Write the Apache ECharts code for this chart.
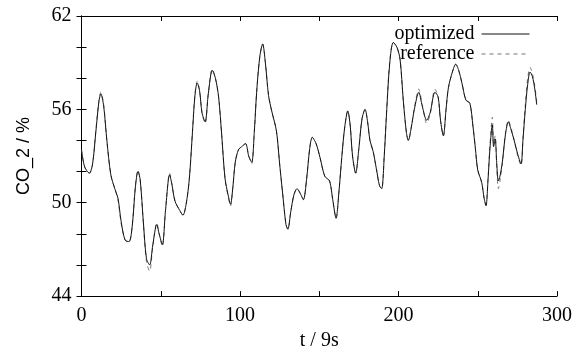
<!DOCTYPE html>
<html><head><meta charset="utf-8">
<script src="https://cdn.jsdelivr.net/npm/echarts@6/dist/echarts.min.js"></script>
<style>html,body{margin:0;padding:0;background:#fff}#c{width:585px;height:356px}</style>
</head><body><div id="c"></div>
<script>
const tValues = [0,2,5,7,9,11,12.2,14,16,18.5,21,23,25,27.5,30,32,34,35.6,37,39,41,43,45,47.5,49,51,53,55.6,57,59,62,64,66,68,70,71.5,73,74.5,76,78,80,82.5,84.5,86.5,88.5,90.5,92.5,94,95.5,97,99,101,103.5,105.5,107.4,109,110.5,112.5,114.3,116,118,120,123,125,127,129,130.2,132,134,136,138,140,142,144,145.6,148,150.5,153.5,156.5,158.5,160.6,162.5,164.2,166,168,169.5,171,173,175,177,178.9,180.5,182,184,186,188,189.4,191,192.6,194.5,196.7,199,201,203,205,206.2,208,210,212.8,215,217.8,220,223,225,226.5,228.3,230,231.5,234,236.1,238,240,242.5,245,247,248.5,250,252.5,254,255.2,256.5,257.7,259.2,260,261,262,263,264,265.5,267.5,269.3,271,273,275,277.3,278.5,280,281.5,283,284.5,286,287.2];
const optimized = [53.4,52.3,51.9,52.5,54.5,56.5,57.0,56.2,54.0,51.8,50.9,50.3,48.8,47.6,47.5,48.5,51.0,52.0,51.5,48.8,46.4,46.0,47.3,48.6,48.0,47.3,49.5,51.8,51.2,50.1,49.5,49.2,49.9,51.5,54.5,56.8,57.7,57.2,55.8,55.2,57.0,58.5,58.0,56.8,54.3,51.6,50.5,49.9,51.0,52.6,53.4,53.6,53.8,53.0,52.6,54.5,57.1,59.4,60.2,59.0,56.9,55.9,54.6,52.5,50.5,48.6,48.3,49.4,50.5,50.9,50.6,50.2,51.5,53.5,54.2,53.8,52.9,51.7,51.4,50.2,49.0,50.8,52.9,54.8,55.9,55.0,53.0,51.9,53.5,55.4,56.0,55.2,54.0,53.3,52.2,51.1,50.9,53.0,56.0,59.0,60.3,60.0,59.2,56.6,54.5,54.0,54.8,56.0,57.1,56.2,55.3,55.8,57.1,56.8,55.3,54.3,56.0,57.4,58.4,58.9,58.5,57.7,56.6,56.4,54.9,53.5,52.1,51.3,50.3,49.8,51.5,53.5,55.0,53.6,54.1,52.5,51.4,51.7,52.6,54.4,55.2,54.7,54.0,53.2,52.5,54.0,56.0,57.6,58.4,58.1,57.3,56.3];
const reference = [53.4,52.3,51.9,52.5,54.6,56.6,57.1,56.3,54.0,51.8,50.9,50.2,48.7,47.6,47.5,48.5,51.1,52.1,51.5,48.7,46.2,45.6,47.2,48.7,48.0,47.2,49.5,51.9,51.2,50.1,49.5,49.2,49.9,51.5,54.6,56.9,57.8,57.2,55.8,55.1,57.0,58.6,58.0,56.8,54.3,51.6,50.4,49.8,51.0,52.6,53.4,53.6,53.8,53.0,52.5,54.5,57.1,59.4,60.2,59.0,56.9,55.9,54.6,52.5,50.5,48.6,48.3,49.4,50.5,50.9,50.6,50.2,51.5,53.5,54.2,53.8,52.9,51.7,51.4,50.2,49.0,50.8,52.9,54.8,55.9,55.0,53.0,51.9,53.5,55.4,56.0,55.2,54.0,53.3,52.2,51.1,50.9,53.0,56.1,59.1,60.3,60.0,59.2,56.6,54.5,54.0,54.8,56.1,57.3,56.3,55.1,55.7,57.3,56.8,55.3,54.3,56.0,57.4,58.4,58.9,58.5,57.7,56.6,56.4,54.9,53.5,52.1,51.3,50.3,49.9,51.6,53.7,55.5,53.8,54.3,52.2,50.9,51.4,52.5,54.5,55.3,54.8,54.0,53.1,52.4,54.1,56.3,58.0,58.7,58.3,57.5,56.5];
const xTickLabels = [0,100,200,300];
const yTickLabels = [44,50,56,62];

const serif = "'Liberation Serif', 'Times New Roman', serif";
const axisCommon = {
  type: 'value',
  axisLine: {show: true, lineStyle: {color: '#000', width: 1}},
  axisTick: {show: true, inside: true, length: 5, lineStyle: {color: '#000'}},
  splitLine: {show: false}
};
function pairs(ys){ return tValues.map((t,i)=>[t, ys[i]]); }

const chart = echarts.init(document.getElementById('c'));
chart.setOption({
  animation: false,
  backgroundColor: '#fff',
  grid: {left: 81.5, right: 28, top: 16, bottom: 55.5, containLabel: false},
  legend: {
    data: ['optimized','reference'], orient: 'vertical', right: 50, top: 19,
    align: 'right', itemWidth: 48, itemHeight: 10, itemGap: 0,
    itemStyle: {opacity: 0, borderWidth: 0},
    lineStyle: {width: 1},
    textStyle: {fontFamily: serif, fontSize: 20, color: '#000', padding: [0,2,0,0]}
  },
  xAxis: [
    Object.assign({}, axisCommon, {min: 0, max: 300, interval: 50, position: 'bottom',
      name: 't / 9s', nameLocation: 'middle', nameGap: 33,
      nameTextStyle: {fontFamily: serif, fontSize: 20, color: '#000'},
      axisLabel: {margin: 10, fontFamily: serif, fontSize: 20, color: '#000',
        formatter: v => xTickLabels.includes(v) ? String(v) : ''}}),
    Object.assign({}, axisCommon, {min: 0, max: 300, interval: 50, position: 'top', axisLabel: {show: false}})
  ],
  yAxis: [
    Object.assign({}, axisCommon, {min: 44, max: 62, interval: 2, position: 'left',
      name: 'CO_2 / %', nameLocation: 'middle', nameGap: 48, nameRotate: 90,
      nameTextStyle: {fontFamily: "'Liberation Sans', Arial, sans-serif", fontSize: 18, color: '#000'},
      axisLabel: {margin: 10, fontFamily: serif, fontSize: 20, color: '#000',
        formatter: v => yTickLabels.includes(v) ? String(v) : ''}}),
    Object.assign({}, axisCommon, {min: 44, max: 62, interval: 2, position: 'right', axisLabel: {show: false}})
  ],
  series: [
    {name: 'optimized', type: 'line', data: pairs(optimized), smooth: 0.3, symbol: 'none', showSymbol: false,
      lineStyle: {color: '#111', width: 1}, itemStyle: {color: '#111'}, z: 3},
    {name: 'reference', type: 'line', data: pairs(reference), smooth: 0.3, symbol: 'none', showSymbol: false,
      lineStyle: {color: '#777', width: 1, type: [4,4]}, itemStyle: {color: '#777'}, z: 2}
  ]
});
</script></body></html>
